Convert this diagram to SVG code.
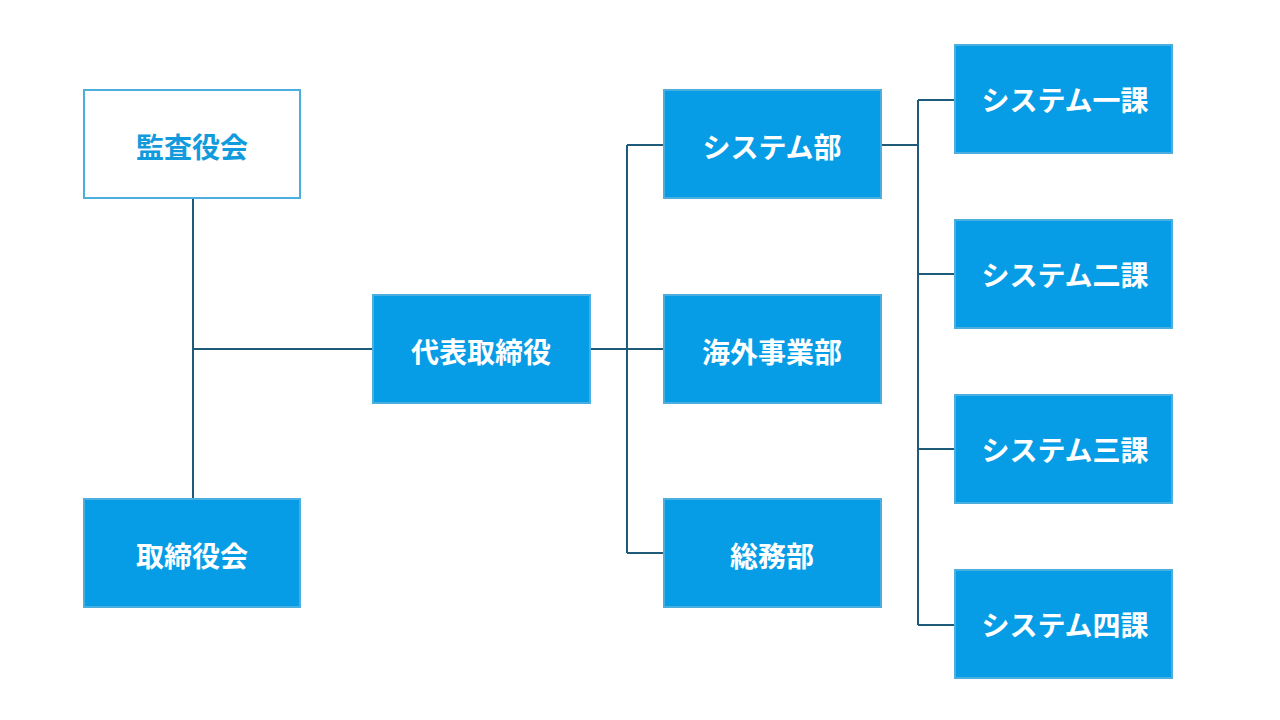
<svg xmlns="http://www.w3.org/2000/svg" width="1280" height="720" viewBox="0 0 1280 720">
<style>
.b{fill:#069de6;stroke:#4aaede;stroke-width:2}
.w{fill:#fff;stroke:#4aaede;stroke-width:2}
.t{font-family:"Noto Sans CJK JP",sans-serif;font-weight:bold;font-size:28px;fill:#fff;text-anchor:middle;dominant-baseline:central}
.tb{fill:#129bdc}
.c{stroke:#1e5a7a;stroke-width:2;fill:none}
</style>
<rect width="1280" height="720" fill="#fff"/>
<g id="connectors" class="c">
<path d="M193 198V499M193 349H373"/>
<path d="M590 349H664M627 145V553M627 145H664M627 553H664"/>
<path d="M881 145H918M918 100V625M918 100H955M918 274H955M918 449H955M918 625H955"/>
</g>
<g id="kansa"><rect class="w" x="84" y="90" width="216" height="108"/><text class="t tb" x="192" y="146">監査役会</text></g>
<g id="torishimariyakukai"><rect class="b" x="84" y="499" width="216" height="108"/><text class="t" x="192" y="555">取締役会</text></g>
<g id="daihyo"><rect class="b" x="373" y="295" width="217" height="108"/><text class="t" x="481" y="351">代表取締役</text></g>
<g id="system"><rect class="b" x="664" y="90" width="217" height="108"/><text class="t" x="772" y="146">システム部</text></g>
<g id="kaigai"><rect class="b" x="664" y="295" width="217" height="108"/><text class="t" x="772" y="351">海外事業部</text></g>
<g id="somu"><rect class="b" x="664" y="499" width="217" height="108"/><text class="t" x="772" y="555">総務部</text></g>
<g id="ka1"><rect class="b" x="955" y="45" width="217" height="108"/><text class="t" x="1065" y="99">システム一課</text></g>
<g id="ka2"><rect class="b" x="955" y="220" width="217" height="108"/><text class="t" x="1065" y="274">システム二課</text></g>
<g id="ka3"><rect class="b" x="955" y="395" width="217" height="108"/><text class="t" x="1065" y="449">システム三課</text></g>
<g id="ka4"><rect class="b" x="955" y="570" width="217" height="108"/><text class="t" x="1065" y="624">システム四課</text></g>
</svg>
